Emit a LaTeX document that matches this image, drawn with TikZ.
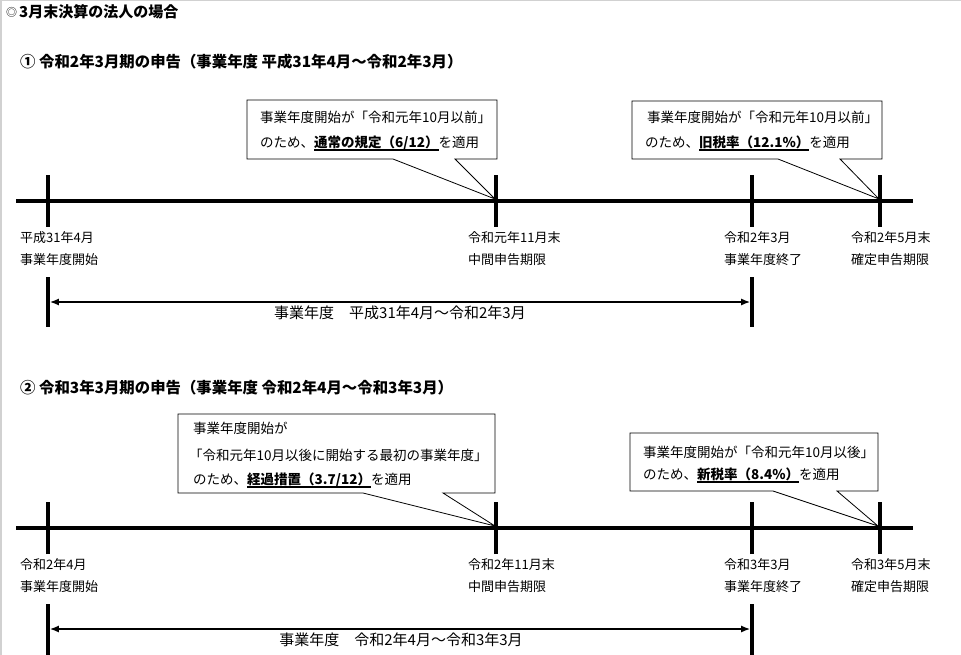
\documentclass[tikz,border=0pt]{standalone}
\usepackage{fontspec}
\setmainfont{Noto Sans CJK JP}
\usetikzlibrary{arrows.meta}
\newcommand\myul[1]{\setbox0\hbox{#1}\rlap{\rule[-3.6pt]{\wd0}{1.2pt}}\box0}
\begin{document}
\begin{tikzpicture}[x=1pt,y=-1pt,
  tline/.style={line width=3.6pt},
  tick/.style={line width=3.6pt},
  lbl/.style={anchor=west, inner sep=0pt, font=\fontsize{13}{15}\selectfont},
  ttl/.style={anchor=west, inner sep=0pt, font=\fontsize{15.4}{17}\selectfont\bfseries},
  ctxt/.style={anchor=west, inner sep=0pt, font=\fontsize{13.5}{15}\selectfont},
  callout/.style={draw=black, line width=0.8pt, fill=white, line join=miter},
  spanline/.style={line width=1.6pt, {Latex[length=9pt,width=7pt]}-{Latex[length=9pt,width=7pt]}},
  spantxt/.style={inner sep=0pt, font=\fontsize{15}{17}\selectfont}
]
\useasboundingbox (0,0) rectangle (961,655);
\fill[white] (0,0) rectangle (961,655);
\draw[black!18, line width=1.5pt] (0.75,655) -- (0.75,0.75) -- (961,0.75);

% titles
\node[anchor=west, inner sep=0pt, font=\fontsize{11}{13}\selectfont] (t0m) at (6,12.5) {◎};
\node[ttl, font=\fontsize{15}{17}\selectfont\bfseries] (t0) at (19,12) {3月末決算の法人の場合};
\node[ttl] (t1) at (20,62) {① 令和2年3月期の申告（事業年度 平成31年4月～令和2年3月）};
\node[ttl] (t2) at (20,388) {② 令和3年3月期の申告（事業年度 令和2年4月～令和3年3月）};

% ---------------- panel 1 ----------------
\coordinate (p1a) at (48,201);
\coordinate (p1b) at (496,201);
\coordinate (p1c) at (752,201);
\coordinate (p1d) at (880,201);
\coordinate (tip1) at (495,199);
\coordinate (tip2) at (879,199);

\draw[callout] (247,100) -- (497,100) -- (497,159) -- (455,159) -- (tip1) -- (393,159) -- (247,159) -- cycle;
\node[ctxt] (c1a) at (260,117) {事業年度開始が「令和元年10月以前」};
\node[ctxt] (c1b) at (260,143) {のため、\myul{\bfseries 通常の規定（6/12）}を適用};

\draw[callout] (632,101) -- (882,101) -- (882,159) -- (840,159) -- (tip2) -- (778,159) -- (632,159) -- cycle;
\node[ctxt] (c2a) at (647,117) {事業年度開始が「令和元年10月以前」};
\node[ctxt] (c2b) at (645,143) {のため、\myul{\bfseries 旧税率（12.1\%）}を適用};

\draw[tline] (16,201) -- (913,201);
\foreach \p in {p1a,p1b,p1c,p1d} \draw[tick] ([yshift=-26pt]\p) -- ([yshift=26pt]\p);

\node[lbl] (l1a1) at (20,238) {平成31年4月};
\node[lbl] (l1a2) at (20,260) {事業年度開始};
\node[lbl] (l1b1) at (468,238) {令和元年11月末};
\node[lbl] (l1b2) at (468,260) {中間申告期限};
\node[lbl] (l1c1) at (724,238) {令和2年3月};
\node[lbl] (l1c2) at (724,260) {事業年度終了};
\node[lbl] (l1d1) at (851,238) {令和2年5月末};
\node[lbl] (l1d2) at (851,260) {確定申告期限};

\draw[tick] (48,277) -- (48,327);
\draw[tick] (752,277) -- (752,327);
\coordinate (s1a) at (49.8,302);
\coordinate (s1b) at (750.2,302);
\draw[spanline] (s1a) -- (s1b);
\node[spantxt] (sp1) at (400,313) {事業年度　平成31年4月～令和2年3月};

% ---------------- panel 2 ----------------
\coordinate (p2a) at (48,528);
\coordinate (p2b) at (496,528);
\coordinate (p2c) at (752,528);
\coordinate (p2d) at (880,528);
\coordinate (tip3) at (495,526);
\coordinate (tip4) at (878,526);

\draw[callout] (178,414) -- (495,414) -- (495,493) -- (443,493) -- (tip3) -- (363,493) -- (178,493) -- cycle;
\node[ctxt] (c3a) at (193,428) {事業年度開始が};
\node[ctxt] (c3b) at (189,455) {「令和元年10月以後に開始する最初の事業年度」};
\node[ctxt] (c3c) at (193,480) {のため、\myul{\bfseries 経過措置（3.7/12）}を適用};

\draw[callout] (630,433) -- (878,433) -- (878,491) -- (837,491) -- (tip4) -- (773,491) -- (630,491) -- cycle;
\node[ctxt] (c4a) at (643,452) {事業年度開始が「令和元年10月以後」};
\node[ctxt] (c4b) at (643,475) {のため、\myul{\bfseries 新税率（8.4\%）}を適用};

\draw[tline] (16,528) -- (913,528);
\foreach \p in {p2a,p2b,p2c,p2d} \draw[tick] ([yshift=-26pt]\p) -- ([yshift=26pt]\p);

\node[lbl] (l2a1) at (20,565) {令和2年4月};
\node[lbl] (l2a2) at (20,587) {事業年度開始};
\node[lbl] (l2b1) at (468,565) {令和2年11月末};
\node[lbl] (l2b2) at (468,587) {中間申告期限};
\node[lbl] (l2c1) at (724,565) {令和3年3月};
\node[lbl] (l2c2) at (724,587) {事業年度終了};
\node[lbl] (l2d1) at (851,565) {令和3年5月末};
\node[lbl] (l2d2) at (851,587) {確定申告期限};

\draw[tick] (48,604) -- (48,655);
\draw[tick] (752,604) -- (752,655);
\coordinate (s2a) at (49.8,629);
\coordinate (s2b) at (750.2,629);
\draw[spanline] (s2a) -- (s2b);
\node[spantxt] (sp2) at (401,640) {事業年度　令和2年4月～令和3年3月};
\end{tikzpicture}
\end{document}
